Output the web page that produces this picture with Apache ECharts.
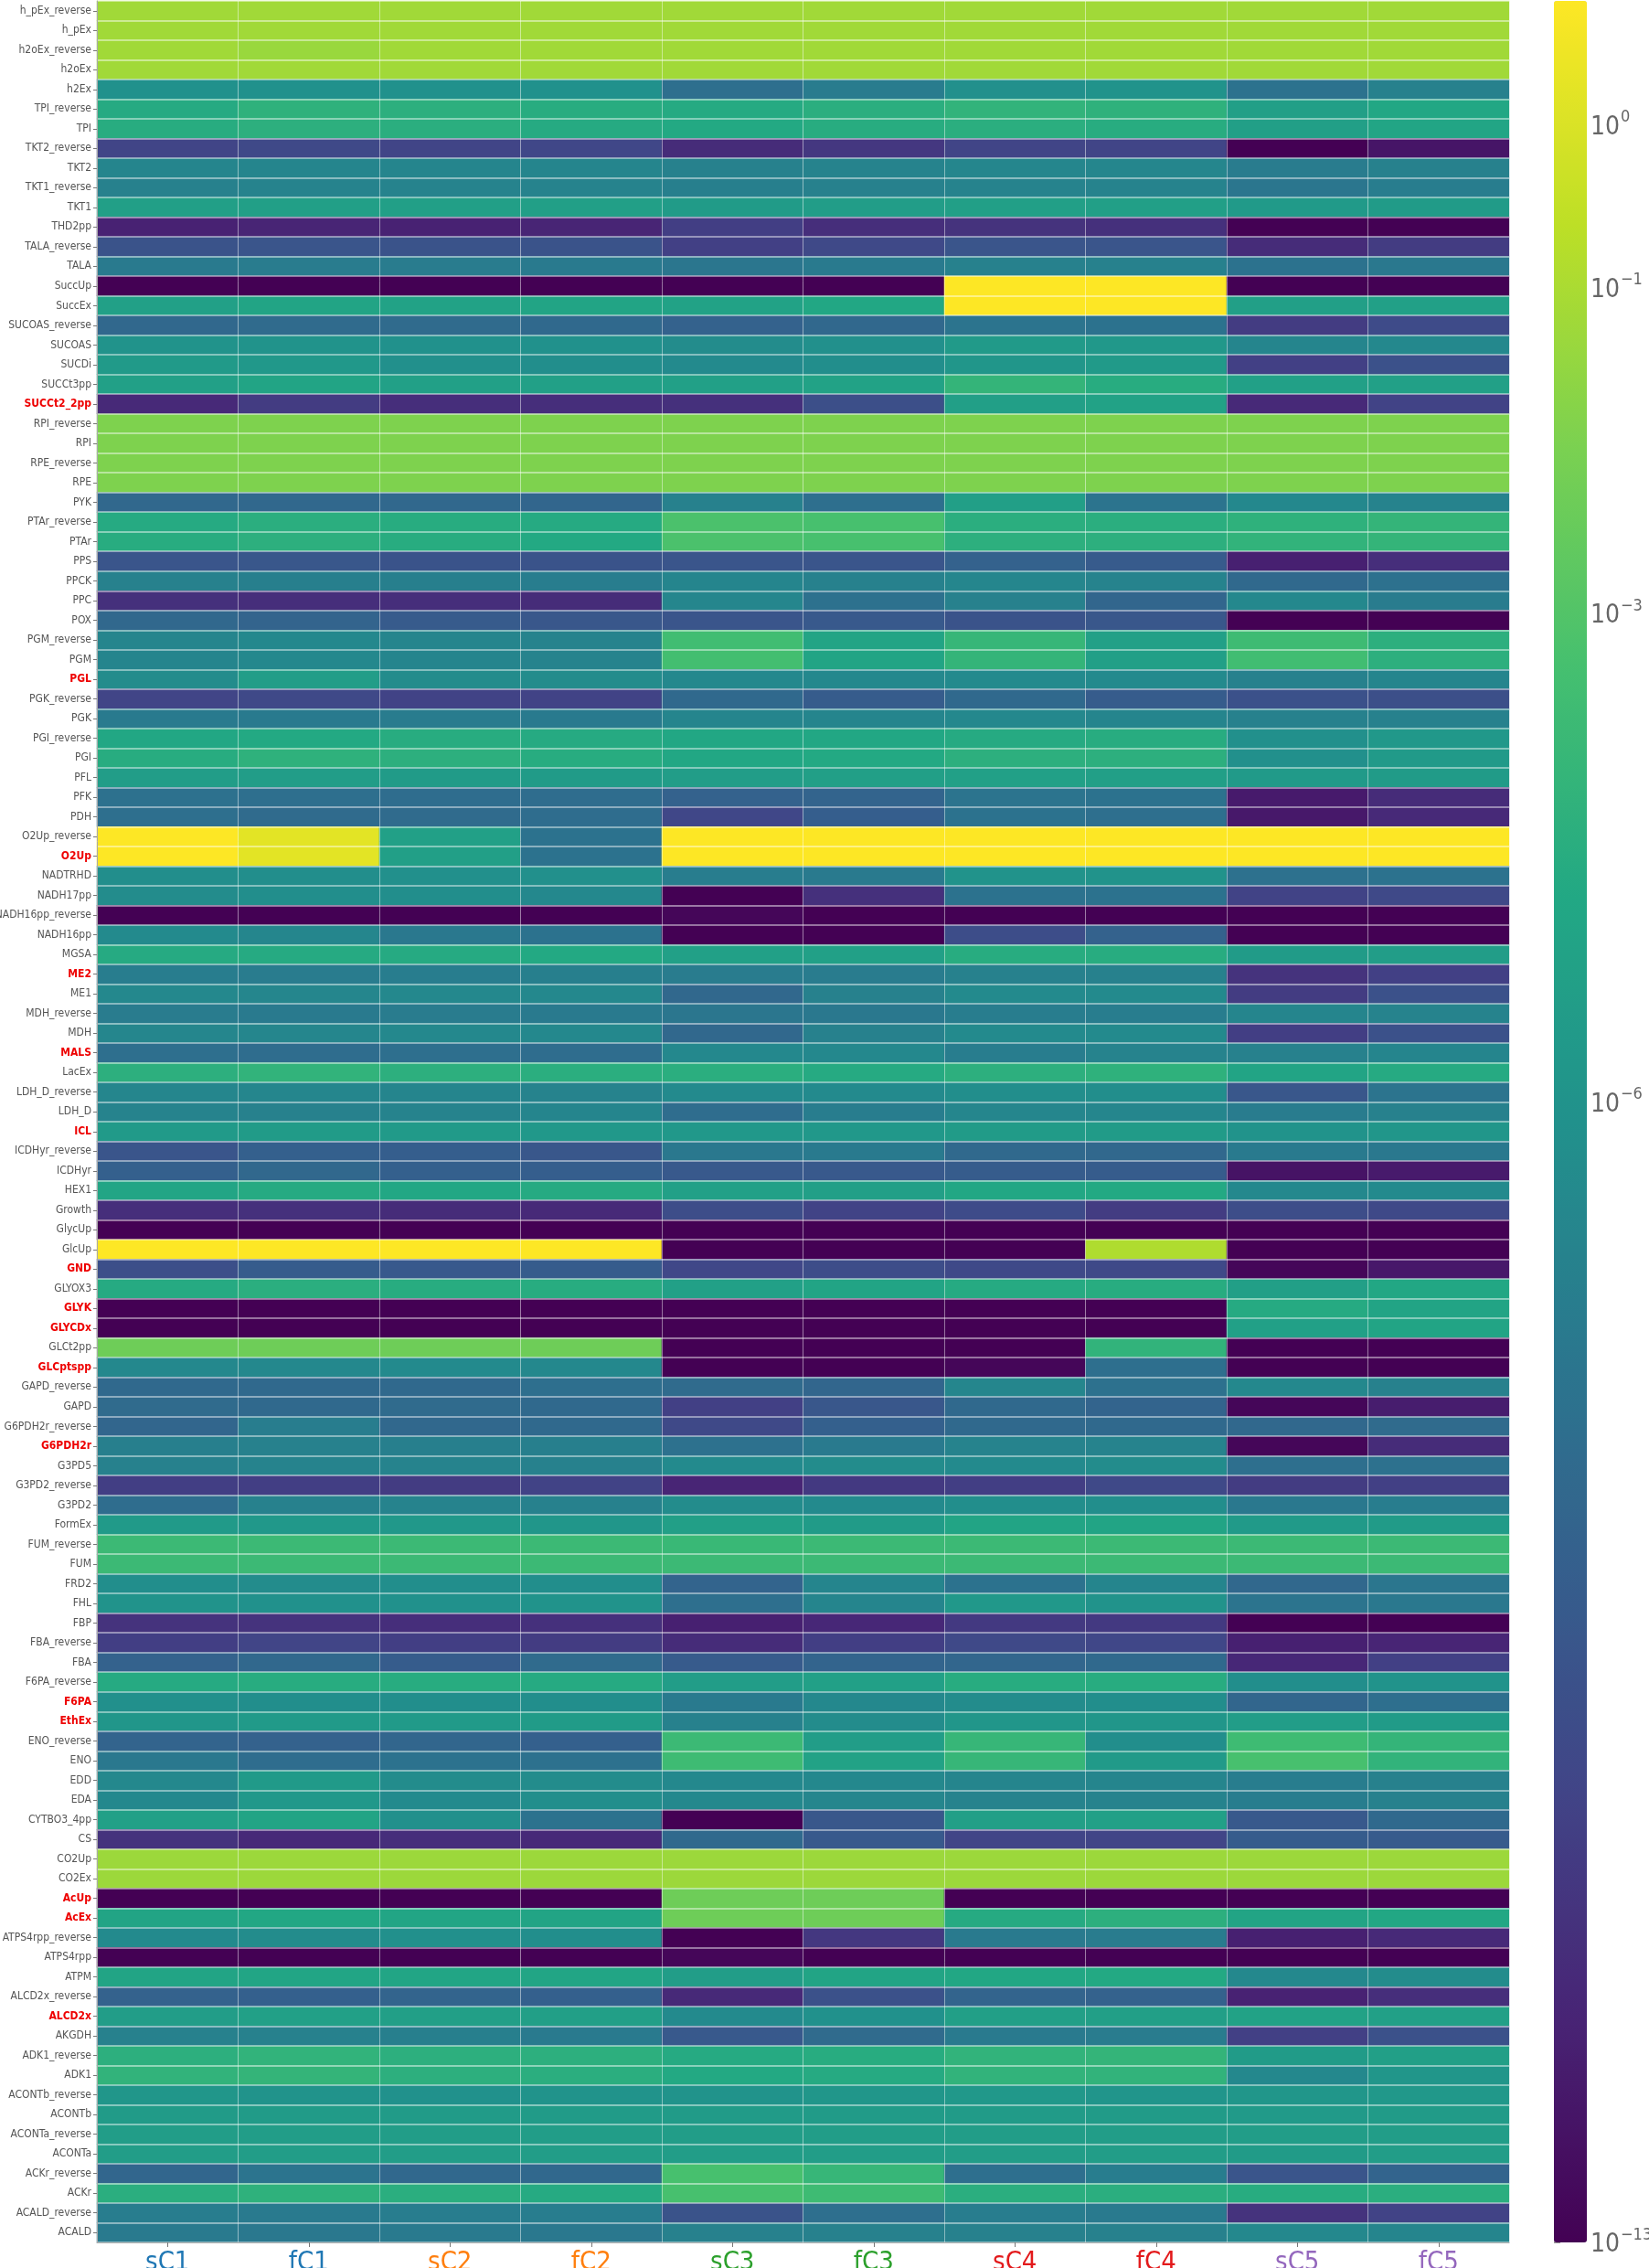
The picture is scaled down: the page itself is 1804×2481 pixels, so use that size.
<!DOCTYPE html>
<html><head><meta charset="utf-8">
<script src="https://cdn.jsdelivr.net/npm/echarts@6/dist/echarts.min.js"></script>
<style>html,body{margin:0;padding:0;background:#fff}#c{width:1804px;height:2481px}</style>
</head><body><div id="c"></div>
<script>
// Row labels, top to bottom
const rows = ["h_pEx_reverse","h_pEx","h2oEx_reverse","h2oEx","h2Ex","TPI_reverse","TPI","TKT2_reverse","TKT2","TKT1_reverse",
"TKT1","THD2pp","TALA_reverse","TALA","SuccUp","SuccEx","SUCOAS_reverse","SUCOAS","SUCDi","SUCCt3pp",
"SUCCt2_2pp","RPI_reverse","RPI","RPE_reverse","RPE","PYK","PTAr_reverse","PTAr","PPS","PPCK",
"PPC","POX","PGM_reverse","PGM","PGL","PGK_reverse","PGK","PGI_reverse","PGI","PFL",
"PFK","PDH","O2Up_reverse","O2Up","NADTRHD","NADH17pp","NADH16pp_reverse","NADH16pp","MGSA","ME2",
"ME1","MDH_reverse","MDH","MALS","LacEx","LDH_D_reverse","LDH_D","ICL","ICDHyr_reverse","ICDHyr",
"HEX1","Growth","GlycUp","GlcUp","GND","GLYOX3","GLYK","GLYCDx","GLCt2pp","GLCptspp",
"GAPD_reverse","GAPD","G6PDH2r_reverse","G6PDH2r","G3PD5","G3PD2_reverse","G3PD2","FormEx","FUM_reverse","FUM",
"FRD2","FHL","FBP","FBA_reverse","FBA","F6PA_reverse","F6PA","EthEx","ENO_reverse","ENO",
"EDD","EDA","CYTBO3_4pp","CS","CO2Up","CO2Ex","AcUp","AcEx","ATPS4rpp_reverse","ATPS4rpp",
"ATPM","ALCD2x_reverse","ALCD2x","AKGDH","ADK1_reverse","ADK1","ACONTb_reverse","ACONTb","ACONTa_reverse","ACONTa",
"ACKr_reverse","ACKr","ACALD_reverse","ACALD"];
const redRows = ["SUCCt2_2pp","PGL","O2Up","ME2","MALS","ICL","GND","GLYK","GLYCDx","GLCptspp","G6PDH2r","F6PA","EthEx","AcUp","AcEx","ALCD2x"];
const cols = ["sC1","fC1","sC2","fC2","sC3","fC3","sC4","fC4","sC5","fC5"];
const colLabelColors = ["#1f77b4","#1f77b4","#ff7f0e","#ff7f0e","#2ca02c","#2ca02c","#e31a1c","#e31a1c","#9467bd","#9467bd"];
// Colour-bar tick exponents (values are log10 of the flux)
const cbarTicks = [-13, -6, -3, -1, 0];
const vMin = -13, vMax = 0.76;

// log10 values per column, rows in the order above
const sC1 = [-1.2,-1.2,-1.2,-1.2,-6.1,-4.6,-4.5,-10.2,-6.8,-7.0,
-5.3,-11.7,-9.5,-7.4,-13,-5.2,-8.4,-6.0,-5.6,-5.2,
-11.4,-1.9,-1.9,-1.9,-1.9,-8.4,-4.6,-4.5,-9.4,-7.0,
-11.1,-8.4,-6.8,-6.8,-6.4,-10.2,-7.4,-4.8,-4.5,-5.4,
-7.9,-8.0,0.76,0.76,-6.3,-6.4,-13,-6.5,-4.6,-7.2,
-6.6,-7.3,-6.7,-8.0,-4.3,-6.7,-6.9,-5.6,-9.4,-8.8,
-4.9,-11.2,-13,0.76,-9.7,-4.6,-13,-13,-2.3,-6.6,
-8.3,-8.2,-8.5,-7.1,-7.0,-10.5,-8.1,-5.6,-3.7,-3.7,
-6.3,-6.0,-11.0,-10.5,-8.7,-4.6,-6.2,-5.8,-8.6,-7.5,
-6.6,-6.6,-5.2,-11.0,-1.3,-1.3,-13,-5.0,-6.5,-13,
-5.0,-8.7,-5.4,-7.0,-4.3,-4.1,-5.8,-5.5,-5.4,-5.4,
-8.5,-4.4,-7.2,-7.4];
const fC1 = [-1.2,-1.2,-1.35,-1.2,-6.1,-4.2,-4.3,-10.0,-6.8,-6.9,
-5.3,-11.6,-9.4,-7.3,-13,-5.0,-8.2,-6.0,-5.7,-5.0,
-10.6,-1.9,-1.9,-1.9,-1.9,-8.4,-4.4,-4.3,-9.3,-7.1,
-11.2,-8.6,-6.6,-6.6,-5.4,-10.0,-7.4,-4.7,-4.2,-5.4,
-8.0,-8.2,0.2,0.2,-6.3,-6.3,-13,-6.7,-4.6,-7.3,
-6.7,-7.4,-6.7,-8.1,-4.1,-6.7,-7.0,-5.5,-8.8,-8.4,
-4.6,-11.1,-13,0.76,-9.0,-4.4,-13,-13,-2.3,-6.6,
-8.3,-8.3,-7.2,-7.0,-6.9,-10.5,-7.0,-5.7,-3.7,-3.7,
-6.4,-6.1,-11.0,-10.2,-8.4,-4.5,-6.3,-5.6,-8.7,-8.1,
-5.6,-5.7,-5.0,-11.4,-1.3,-1.3,-13,-4.8,-6.4,-13,
-4.9,-8.8,-5.2,-7.0,-4.1,-4.0,-6.0,-5.5,-5.4,-5.4,
-7.7,-4.2,-7.4,-7.5];
const sC2 = [-1.2,-1.2,-1.2,-1.2,-6.1,-4.3,-4.4,-10.2,-6.8,-6.9,
-5.3,-11.7,-9.5,-7.3,-13,-5.1,-8.2,-6.1,-6.2,-5.2,
-11.2,-1.9,-1.9,-1.9,-1.9,-8.4,-4.5,-4.5,-9.5,-7.1,
-11.2,-9.1,-6.8,-6.8,-6.4,-10.3,-7.3,-4.5,-4.3,-5.5,
-8.1,-8.2,-5.2,-5.3,-6.2,-6.3,-13,-7.5,-4.6,-7.2,
-6.6,-7.3,-6.6,-8.0,-4.3,-6.8,-6.9,-5.6,-8.9,-8.8,
-4.8,-11.3,-13,0.76,-9.2,-4.5,-13,-13,-2.3,-6.5,
-8.3,-8.2,-8.4,-7.1,-6.9,-10.6,-6.9,-5.7,-3.7,-3.7,
-6.3,-6.1,-11.2,-10.5,-9.0,-4.5,-6.3,-5.6,-8.5,-7.8,
-6.4,-6.5,-6.2,-11.2,-1.3,-1.3,-13,-4.9,-6.2,-13,
-4.9,-8.6,-5.3,-7.1,-4.3,-4.3,-6.1,-5.5,-5.4,-5.4,
-8.4,-4.4,-7.2,-7.4];
const fC2 = [-1.2,-1.2,-1.2,-1.2,-6.1,-4.5,-4.6,-10.1,-6.8,-6.9,
-5.3,-11.6,-9.5,-7.4,-13,-5.0,-8.3,-6.1,-6.3,-5.2,
-11.2,-1.9,-1.9,-1.9,-1.9,-8.5,-4.6,-4.7,-9.5,-7.2,
-11.3,-9.3,-6.9,-6.9,-6.4,-10.3,-7.4,-4.6,-4.5,-5.5,
-8.1,-8.1,-7.8,-7.8,-6.2,-6.6,-13,-7.8,-4.7,-7.1,
-6.6,-7.4,-6.6,-8.1,-4.4,-6.9,-6.8,-5.7,-9.3,-8.9,
-4.6,-11.4,-13,0.76,-9.0,-4.5,-13,-13,-2.3,-6.6,
-8.0,-8.3,-8.3,-7.1,-7.0,-10.3,-7.0,-5.8,-3.7,-3.7,
-6.3,-6.0,-11.1,-10.6,-8.2,-4.6,-6.3,-5.5,-8.8,-7.9,
-6.4,-6.3,-7.8,-11.4,-1.3,-1.3,-13,-5.0,-6.3,-13,
-4.9,-8.8,-5.3,-7.4,-4.3,-4.4,-6.0,-5.5,-5.4,-5.4,
-8.4,-4.6,-7.2,-7.5];
const sC3 = [-1.2,-1.2,-1.2,-1.2,-8.0,-4.6,-4.7,-11.3,-7.0,-7.1,
-5.5,-10.5,-10.4,-7.6,-13,-5.1,-8.7,-6.4,-6.5,-5.2,
-11.1,-1.9,-1.9,-1.9,-1.9,-7.0,-3.2,-3.2,-9.4,-6.8,
-6.7,-9.4,-3.5,-3.4,-6.6,-8.3,-6.8,-4.8,-4.8,-5.4,
-8.7,-10.1,0.76,0.76,-7.2,-13,-12.8,-13,-5.2,-7.3,
-8.4,-7.6,-8.4,-6.6,-4.4,-6.5,-8.1,-5.7,-7.5,-9.2,
-5.2,-9.8,-13,-13,-10.1,-5.2,-13,-13,-13,-13,
-8.2,-10.4,-10.0,-7.9,-6.5,-11.6,-6.4,-5.3,-3.8,-3.7,
-8.6,-8.0,-11.8,-11.3,-9.1,-5.4,-7.4,-7.0,-3.7,-3.6,
-6.6,-6.6,-13,-8.3,-1.3,-1.3,-2.3,-2.3,-13,-12.8,
-5.4,-11.4,-6.5,-9.2,-4.6,-4.7,-6.0,-5.5,-5.4,-5.4,
-3.3,-3.3,-9.5,-7.0];
const fC3 = [-1.2,-1.2,-1.2,-1.2,-7.3,-4.4,-4.5,-10.8,-6.9,-7.0,
-5.4,-11.2,-10.0,-7.4,-13,-4.8,-8.4,-6.2,-6.3,-5.1,
-9.7,-1.9,-1.9,-1.9,-1.9,-8.0,-3.3,-3.3,-9.4,-7.0,
-7.9,-9.2,-5.0,-5.0,-6.6,-9.0,-6.8,-4.8,-4.7,-5.3,
-8.6,-8.9,0.76,0.76,-7.4,-11.1,-13,-13,-5.2,-7.3,
-7.0,-7.5,-7.0,-6.6,-4.6,-6.5,-7.2,-5.7,-7.4,-9.2,
-5.3,-10.3,-13,-13,-9.8,-5.0,-13,-13,-13,-13,
-8.5,-9.3,-8.8,-7.4,-6.4,-10.7,-6.5,-5.5,-3.7,-3.7,
-6.8,-6.8,-11.5,-10.5,-8.6,-5.2,-6.6,-6.4,-5.4,-5.1,
-6.6,-6.7,-9.3,-9.2,-1.3,-1.3,-2.3,-2.3,-10.8,-13,
-5.0,-9.6,-6.1,-8.2,-4.5,-4.6,-5.8,-5.5,-5.4,-5.4,
-3.9,-3.6,-8.0,-7.0];
const sC4 = [-1.2,-1.2,-1.2,-1.2,-6.2,-4.1,-4.4,-10.2,-6.7,-6.9,
-5.3,-11.0,-9.4,-7.0,0.76,0.76,-7.7,-5.6,-5.8,-4.0,
-5.3,-1.9,-1.9,-1.9,-1.9,-5.3,-4.4,-4.3,-8.7,-6.7,
-7.0,-9.5,-3.9,-4.0,-6.5,-8.3,-6.6,-4.6,-4.3,-5.2,
-7.7,-7.8,0.76,0.76,-6.0,-7.8,-13,-9.8,-4.5,-7.0,
-6.5,-7.2,-6.5,-7.2,-4.3,-6.3,-6.7,-5.5,-8.3,-9.0,
-4.8,-9.9,-13,-13,-10.0,-4.6,-13,-13,-13,-12.8,
-6.7,-8.3,-8.3,-6.9,-6.5,-10.5,-6.3,-5.0,-3.7,-3.7,
-7.8,-5.7,-10.7,-10.0,-8.5,-4.5,-6.4,-5.8,-3.9,-3.9,
-6.8,-6.9,-5.3,-10.2,-1.3,-1.3,-13,-4.6,-7.4,-13,
-4.8,-8.6,-5.3,-7.4,-4.1,-4.1,-5.7,-5.5,-5.4,-5.4,
-8.0,-4.4,-7.2,-7.0];
const fC4 = [-1.2,-1.2,-1.2,-1.2,-6.0,-4.2,-4.5,-10.2,-6.7,-6.9,
-5.3,-11.1,-9.4,-7.0,0.76,0.76,-7.8,-5.7,-5.6,-4.5,
-5.1,-1.9,-1.9,-1.9,-1.9,-7.7,-4.4,-4.3,-9.1,-6.9,
-8.5,-9.3,-5.2,-5.3,-6.5,-9.0,-6.8,-4.5,-4.3,-5.3,
-7.8,-8.0,0.76,0.76,-6.0,-7.8,-13,-8.7,-4.5,-7.0,
-6.5,-7.2,-6.5,-6.9,-4.2,-6.3,-6.7,-5.5,-8.4,-9.0,
-4.7,-10.6,-13,-0.9,-10.0,-4.5,-13,-13,-4.1,-8.0,
-7.9,-8.6,-8.3,-6.9,-6.4,-10.0,-6.3,-5.0,-3.7,-3.7,
-6.8,-6.0,-10.7,-10.1,-8.3,-4.5,-6.3,-5.8,-6.3,-5.6,
-6.8,-6.9,-5.2,-10.2,-1.3,-1.3,-13,-4.3,-7.3,-13,
-4.7,-8.7,-5.3,-7.3,-4.0,-4.1,-5.9,-5.5,-5.4,-5.4,
-7.2,-4.4,-7.4,-7.0];
const sC5 = [-1.2,-1.2,-1.2,-1.2,-7.8,-5.3,-5.3,-13,-7.3,-7.6,
-5.6,-13,-11.3,-7.8,-13,-5.3,-10.6,-6.8,-10.4,-5.2,
-11.4,-1.9,-1.9,-1.9,-1.9,-6.6,-4.2,-4.1,-11.8,-8.3,
-6.6,-13,-3.6,-3.5,-7.0,-9.6,-7.0,-6.2,-6.2,-5.6,
-12.0,-12.1,0.76,0.76,-7.9,-10.3,-13,-13,-5.5,-11.0,
-10.6,-6.8,-10.5,-7.0,-5.0,-9.3,-7.3,-6.0,-7.4,-12.3,
-6.6,-9.8,-13,-13,-12.8,-5.3,-4.6,-5.2,-13,-13,
-6.6,-12.8,-8.4,-12.8,-8.0,-10.6,-7.5,-5.6,-3.7,-3.7,
-8.4,-7.7,-13,-11.8,-11.5,-6.3,-8.5,-5.4,-3.6,-3.3,
-7.2,-7.2,-9.2,-9.0,-1.3,-1.3,-13,-5.0,-11.8,-13,
-6.6,-11.7,-5.1,-10.4,-5.5,-6.6,-5.8,-5.6,-5.4,-5.5,
-9.4,-4.5,-11.0,-6.6];
const fC5 = [-1.2,-1.2,-1.2,-1.2,-7.0,-4.8,-4.9,-12.2,-7.0,-7.2,
-5.5,-13,-10.6,-7.5,-13,-5.2,-9.9,-6.6,-9.6,-5.2,
-10.3,-1.9,-1.9,-1.9,-1.9,-6.9,-4.0,-4.0,-11.2,-7.9,
-7.3,-13,-4.3,-4.3,-6.8,-9.7,-7.0,-5.7,-5.6,-5.5,
-11.3,-11.4,0.76,0.76,-7.8,-10.0,-13,-13,-5.4,-10.4,
-9.6,-6.9,-9.6,-6.8,-4.6,-7.7,-7.0,-5.8,-7.5,-12.0,
-6.5,-10.0,-13,-13,-12.1,-4.8,-5.0,-5.0,-13,-13,
-7.0,-11.9,-8.2,-11.3,-7.9,-10.4,-7.2,-5.5,-3.7,-3.7,
-7.6,-7.5,-13,-11.6,-10.4,-6.0,-8.0,-5.5,-4.0,-4.1,
-7.0,-7.0,-8.3,-9.1,-1.3,-1.3,-13,-4.8,-11.4,-13,
-6.4,-11.2,-5.2,-9.6,-5.3,-5.8,-5.7,-5.5,-5.4,-5.4,
-8.6,-4.4,-10.3,-6.8];

const columnValues = [sC1, fC1, sC2, fC2, sC3, fC3, sC4, fC4, sC5, fC5];
const data = [];
cols.forEach((c, ci) => rows.forEach((r, ri) => data.push([ci, ri, columnValues[ci][ri]])));

const viridis = ['#440154','#482475','#414487','#355f8d','#2a788e','#21918c','#22a884','#44bf70','#7ad151','#bddf26','#fde725'];
const redSet = new Set(redRows);
const FONT = "'DejaVu Sans Condensed','DejaVu Sans',sans-serif";
const TOP = 1, BOTTOM = 28;

const chart = echarts.init(document.getElementById('c'), null, {renderer: 'canvas'});
chart.setOption({
  animation: false,
  backgroundColor: '#ffffff',
  grid: [
    {left: 106, right: 153, top: TOP, bottom: BOTTOM, containLabel: false, outerBoundsMode: 'none'},
    {left: 1700, width: 36, top: TOP, bottom: BOTTOM, containLabel: false, outerBoundsMode: 'none'}
  ],
  xAxis: [
    {type: 'category', data: cols, gridIndex: 0, z: 10,
     axisLine: {show: true, lineStyle: {color: '#aaaaaa', width: 1}},
     axisTick: {show: true, alignWithLabel: true, length: 5, lineStyle: {color: '#777'}},
     splitLine: {show: true, lineStyle: {color: 'rgba(255,255,255,0.45)', width: 1}},
     axisLabel: {fontSize: 29, fontFamily: FONT, margin: 8,
       color: (v, i) => colLabelColors[cols.indexOf(v)]}},
    {type: 'value', gridIndex: 1, show: false, min: 0, max: 1}
  ],
  yAxis: [
    {type: 'category', data: rows, inverse: true, gridIndex: 0, z: 10,
     axisLine: {show: true, lineStyle: {color: '#aaaaaa', width: 1}},
     axisTick: {show: true, alignWithLabel: true, length: 4, lineStyle: {color: '#777'}},
     splitLine: {show: true, lineStyle: {color: 'rgba(255,255,255,0.6)', width: 1.5}},
     axisLabel: {fontSize: 12, fontFamily: FONT, color: '#555555', margin: 6, interval: 0,
       formatter: v => redSet.has(v) ? '{r|' + v + '}' : v,
       rich: {r: {color: '#ee0000', fontSize: 12, fontFamily: FONT, fontWeight: 'bold'}}}},
    {type: 'value', gridIndex: 1, min: vMin, max: vMax, position: 'right',
     axisLine: {show: false}, splitLine: {show: false},
     axisTick: {show: true, length: 7, customValues: cbarTicks, lineStyle: {color: '#777', width: 1.5}},
     axisLabel: {show: true, customValues: cbarTicks, margin: 4, color: '#666666',
       formatter: v => '{b|10}{s|' + String(v).replace('-', '\u2212') + '}',
       rich: {b: {fontSize: 28, fontFamily: FONT, color: '#666', lineHeight: 34, verticalAlign: 'bottom'},
              s: {fontSize: 18, fontFamily: FONT, color: '#666', lineHeight: 34, verticalAlign: 'top', padding: [0,0,0,1]}}}}
  ],
  visualMap: {
    type: 'continuous', min: vMin, max: vMax, seriesIndex: 0, calculable: false,
    orient: 'vertical', left: 1700, top: TOP, itemWidth: 36, itemHeight: 2481 - TOP - BOTTOM,
    padding: 0, text: null, showLabel: false, hoverLink: false,
    inRange: {color: viridis}
  },
  series: [
    {type: 'heatmap', xAxisIndex: 0, yAxisIndex: 0, data: data, progressive: 0,
     emphasis: {disabled: true}, itemStyle: {borderWidth: 0}},
    {type: 'scatter', xAxisIndex: 1, yAxisIndex: 1, data: [], silent: true}
  ]
});
</script></body></html>
